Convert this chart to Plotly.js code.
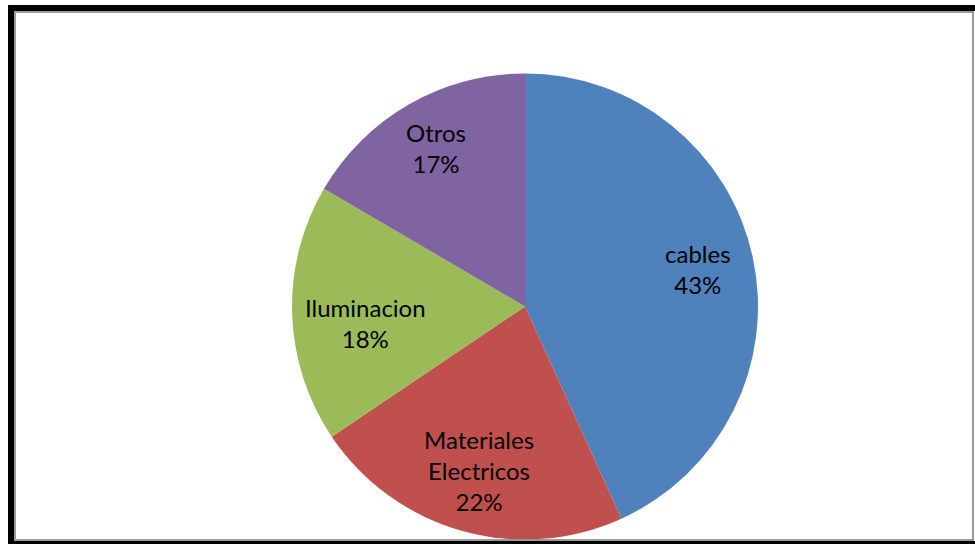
<!DOCTYPE html>
<html>
<head>
<meta charset="utf-8">
<script src="https://cdn.plot.ly/plotly-3.0.1.min.js"></script>
<style>
html,body{margin:0;padding:0;background:#fff;}
#chart{width:975px;height:544px;}
</style>
</head>
<body>
<div id="chart"></div>
<script>
const categories = ["cables", "Materiales<br>Electricos", "Iluminacion", "Otros"];
const values = [43.3, 22.4, 17.9, 16.6];
const colors = ["#4F81BD", "#C0504D", "#9BBB59", "#8064A2"];
// label placement (layout only): distance from centre as a fraction of the radius,
// and a small angular nudge in degrees from the slice's mid-angle
const labelRadius = [0.76, 0.73, 0.69, 0.78];
const labelNudge = [0, 0, -4, 0.5];

const W = 975, H = 544;
const CX = 525, CY = 306.5, R = 233;
function px(x){ return x / W; }
function py(y){ return 1 - y / H; }

const trace = {
  type: "pie",
  labels: categories,
  values: values,
  sort: false,
  direction: "clockwise",
  rotation: 0,
  marker: {colors: colors, line: {width: 0}},
  textinfo: "none",
  hoverinfo: "none",
  showlegend: false,
  domain: {x: [px(CX - R), px(CX + R)], y: [py(CY + R), py(CY - R)]}
};

const total = values.reduce((a, b) => a + b, 0);
const annotations = [];
let cum = 0;
values.forEach((v, i) => {
  const mid = (cum + v / 2) / total * 2 * Math.PI + labelNudge[i] * Math.PI / 180;
  cum += v;
  const r = labelRadius[i] * R;
  annotations.push({
    xref: "paper", yref: "paper",
    x: px(CX + r * Math.sin(mid)),
    y: py(CY - r * Math.cos(mid)),
    xanchor: "center", yanchor: "middle",
    text: categories[i] + "<br>" + Math.round(v / total * 100) + "%",
    showarrow: false,
    align: "center",
    font: {family: "Lato, Calibri, sans-serif", size: 24, color: "#000000"}
  });
});

const black = "#000000";
const layout = {
  width: W,
  height: H,
  margin: {l: 0, r: 0, t: 0, b: 0, pad: 0},
  paper_bgcolor: "#ffffff",
  showlegend: false,
  annotations: annotations,
  shapes: [
    {type: "rect", xref: "paper", yref: "paper", x0: px(15), x1: px(973), y0: py(540), y1: py(12),
     line: {color: "#9a9a9a", width: 2}, layer: "above"},
    {type: "rect", xref: "paper", yref: "paper", x0: px(8), x1: px(14), y0: py(544), y1: py(5),
     fillcolor: black, line: {width: 0}, layer: "above"},
    {type: "rect", xref: "paper", yref: "paper", x0: px(8), x1: px(975), y0: py(11), y1: py(5),
     fillcolor: black, line: {width: 0}, layer: "above"},
    {type: "rect", xref: "paper", yref: "paper", x0: px(8), x1: px(975), y0: py(544), y1: py(541),
     fillcolor: black, line: {width: 0}, layer: "above"}
  ]
};

Plotly.newPlot("chart", [trace], layout, {displayModeBar: false, staticPlot: true});
</script>
</body>
</html>
